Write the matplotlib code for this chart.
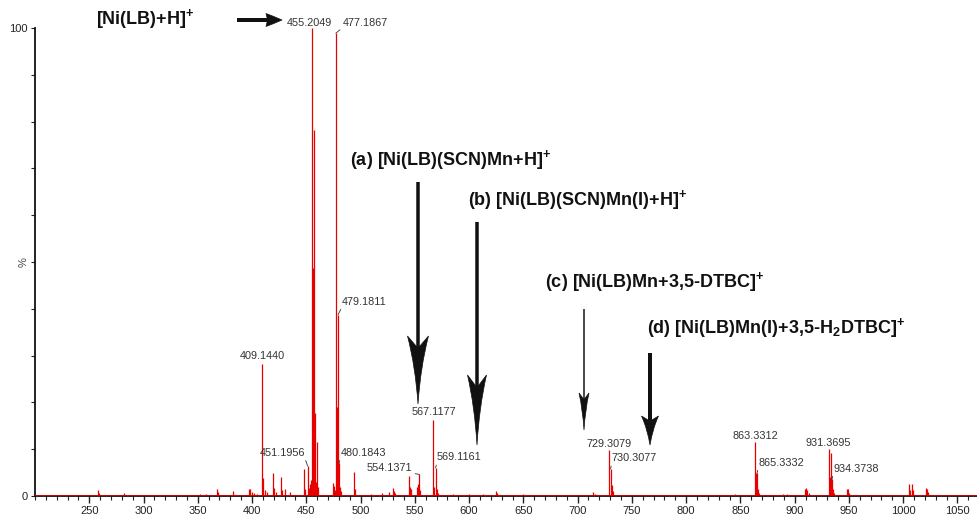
import matplotlib
matplotlib.use('Agg')
import numpy as np
import matplotlib.pyplot as plt
from matplotlib.path import Path
from matplotlib.patches import PathPatch
from matplotlib.lines import Line2D
from matplotlib.ticker import FixedLocator, MultipleLocator

plt.rcParams['font.family'] = ['Liberation Sans', 'DejaVu Sans']
plt.rcParams['mathtext.fontset'] = 'custom'
plt.rcParams['mathtext.rm'] = 'Liberation Sans'
plt.rcParams['mathtext.bf'] = 'Liberation Sans:bold'

# peak list (m/z, relative intensity %)
mz = [258.0, 259.0, 282.0, 352.0, 358.0, 368.0, 369.0, 382.0, 397.5, 398.5,
      399.5, 402.0, 405.0, 409.1440, 410.15, 412.0, 414.0, 419.1, 420.1, 422.0,
      427.0, 428.0, 430.0, 435.0, 447.5, 449.0, 451.1956, 452.2, 453.2, 454.2,
      455.2049, 456.2, 457.2, 458.2, 459.2, 460.2, 461.2, 474.2, 475.2, 476.2,
      477.1867, 478.19, 479.1811, 480.1843, 481.2, 482.2, 493.5, 494.5, 510.0, 520.0,
      526.0, 530.0, 531.0, 532.0, 544.9, 545.9, 546.9, 551.9, 552.9, 554.1371,
      555.1, 567.1177, 568.1, 569.1161, 570.1, 571.0, 585.0, 600.0, 613.0, 625.0,
      626.0, 650.0, 666.0, 714.5, 716.0, 729.3079, 730.3077, 731.3, 732.3, 758.0,
      790.0, 830.0, 845.0, 863.3312, 864.3, 865.3332, 866.3, 867.0, 880.0, 889.0,
      893.0, 909.5, 910.5, 911.5, 913.0, 931.3695, 932.4, 933.4, 934.3738, 935.4,
      936.4, 948.5, 949.5, 950.5, 962.0, 985.0, 990.0, 1005.5, 1006.5, 1008.0,
      1009.0, 1021.0, 1022.0, 1023.0]
intensity = [1.3, 0.6, 0.6, 0.4, 0.5, 1.6, 0.8, 1.0, 1.6, 1.6,
             0.8, 0.6, 0.5, 28.2, 3.9, 1.2, 0.8, 4.9, 1.8, 0.8,
             4.0, 1.2, 1.5, 0.8, 5.8, 1.5, 6.4, 1.8, 2.5, 3.5,
             100.0, 48.7, 78.2, 17.7, 3.0, 11.5, 2.0, 2.8, 2.2, 1.2,
             98.9, 19.0, 38.7, 7.0, 2.0, 1.0, 5.2, 1.5, 0.5, 0.6,
             0.8, 1.8, 1.0, 0.6, 4.3, 2.0, 1.4, 1.9, 2.6, 4.6,
             1.2, 16.2, 2.0, 6.0, 1.4, 0.6, 0.4, 0.4, 0.5, 1.0,
             0.7, 0.4, 0.3, 0.8, 0.5, 9.8, 5.8, 2.4, 1.0, 0.3,
             0.3, 0.3, 0.4, 11.5, 4.9, 4.9, 1.6, 0.6, 0.3, 0.5,
             0.5, 1.5, 1.8, 1.2, 0.6, 10.0, 4.0, 9.2, 3.6, 1.6,
             0.6, 1.5, 1.5, 0.6, 0.3, 0.3, 0.3, 2.6, 1.2, 2.6,
             1.2, 1.7, 1.5, 0.8]

# labelled peaks: m/z, alignment, offset in points
peak_labels = [(409.1440, 'c', 0, 2), (455.2049, 'c', -2, 0), (567.1177, 'c', 0, 2),
               (729.3079, 'c', 0, 1), (863.3312, 'c', 0, 1), (931.3695, 'c', 0, 1),
               (477.1867, 'l', 5, 4), (479.1811, 'l', 3, 6), (480.1843, 'l', 1, 4),
               (569.1161, 'l', 1, 4), (730.3077, 'l', 1, 4), (865.3332, 'l', 1, 4),
               (934.3738, 'l', 1, 4), (451.1956, 'r', -2, 6), (554.1371, 'r', -5, 1)]

species = [r'[Ni(LB)+H]$^{\mathbf{+}}$',
           r'(a) [Ni(LB)(SCN)Mn+H]$^{\mathbf{+}}$',
           r'(b) [Ni(LB)(SCN)Mn(I)+H]$^{\mathbf{+}}$',
           r'(c) [Ni(LB)Mn+3,5-DTBC]$^{\mathbf{+}}$',
           r'(d) [Ni(LB)Mn(I)+3,5-H$_{\mathbf{2}}$DTBC]$^{\mathbf{+}}$']

W, H = 977, 516


def fxy(px, py):
    return px / W, 1 - py / H


def draw_arrow(fig, tail, tip, head_len, head_w, shaft_px, bend=0.12, notch=0.82):
    # shaft + concave arrowhead, positions given in image pixels
    tail = np.array(tail, float)
    tip = np.array(tip, float)
    d = (tip - tail) / np.linalg.norm(tip - tail)
    n = np.array([-d[1], d[0]])
    base = tip - d * head_len
    pts = [tip,
           tip - d * 0.55 * head_len + n * head_w * bend, base + n * head_w / 2,
           tip - d * notch * head_len,
           base - n * head_w / 2,
           tip - d * 0.55 * head_len - n * head_w * bend, tip,
           tip]
    codes = [Path.MOVETO, Path.CURVE3, Path.CURVE3, Path.LINETO, Path.LINETO,
             Path.CURVE3, Path.CURVE3, Path.CLOSEPOLY]
    path = Path([fxy(*p) for p in pts], codes)
    fig.add_artist(PathPatch(path, transform=fig.transFigure, facecolor='#111111',
                             edgecolor='#111111', lw=0.5))
    end = tip - d * notch * head_len
    (x0, y0), (x1, y1) = fxy(*tail), fxy(*end)
    fig.add_artist(Line2D([x0, x1], [y0, y1], transform=fig.transFigure,
                          color='#111111', lw=shaft_px * 0.72, solid_capstyle='butt'))


fig = plt.figure(figsize=(W / 100, H / 100), dpi=100)
ax = fig.add_axes([35 / W, 20 / H, 942 / W, 468 / H])

ax.vlines(mz, 0, intensity, color='#e60000', lw=0.9)
ax.axhline(0, color='#e60000', lw=1.2, zorder=3)
ax.set_xlim(200, 1068)
ax.set_ylim(0, 100)

for s in ['top', 'right']:
    ax.spines[s].set_visible(False)
for s in ['left', 'bottom']:
    ax.spines[s].set_linewidth(1.3)
    ax.spines[s].set_color('#111111')

ax.xaxis.set_major_locator(FixedLocator(list(range(250, 1051, 50))))
ax.xaxis.set_minor_locator(MultipleLocator(10))
ax.yaxis.set_major_locator(FixedLocator([0, 100]))
ax.yaxis.set_minor_locator(MultipleLocator(10))
ax.tick_params(axis='x', which='major', length=5, width=1, labelsize=8, colors='#222222', pad=2)
ax.tick_params(axis='x', which='minor', length=3, width=0.8, colors='#222222')
ax.tick_params(axis='y', which='both', length=3, width=0.8, labelsize=8, colors='#222222', pad=2)
ax.text(-0.012, 0.5, '%', transform=ax.transAxes, rotation=90, ha='center', va='center',
        fontsize=8, color='#444444')

lookup = dict(zip(mz, intensity))
for m, side, dx, dy in peak_labels:
    y = lookup[m]
    if side == 'c':
        ax.annotate(f'{m:.4f}', xy=(m, y), xytext=(dx, dy), textcoords='offset points',
                    ha='center', va='bottom', fontsize=7.8, color='#333333',
                    annotation_clip=False)
    else:
        ha = 'left' if side == 'l' else 'right'
        rel = (0, 0) if side == 'l' else (1, 0)
        ax.annotate(f'{m:.4f}', xy=(m, y), xytext=(dx, dy), textcoords='offset points',
                    ha=ha, va='bottom', fontsize=7.8, color='#333333',
                    annotation_clip=False,
                    arrowprops=dict(arrowstyle='-', lw=0.6, color='#333333',
                                    shrinkA=0, shrinkB=0, relpos=rel))

# species labels
text_pos = [(145, 19, 'center'), (350, 160, 'left'), (468, 200, 'left'),
            (545, 282, 'left'), (647, 328, 'left')]
for label, (px, py, ha) in zip(species, text_pos):
    fig.text(*fxy(px, py), label, ha=ha, va='center', fontsize=13,
             fontweight='bold', color='#111111')

# arrows: tail, tip, head length, head width, shaft width (pixels)
draw_arrow(fig, (237, 20), (282, 20), 16, 13, 4, bend=0.3, notch=0.9)
draw_arrow(fig, (418, 182), (418, 404), 68, 21, 3.5)
draw_arrow(fig, (477, 222), (477, 445), 70, 19, 3.5)
draw_arrow(fig, (584, 309), (584, 430), 37, 10, 1.5)
draw_arrow(fig, (650, 353), (650, 445), 29, 17, 4, bend=0.15)

fig.savefig('out.png', dpi=100)
